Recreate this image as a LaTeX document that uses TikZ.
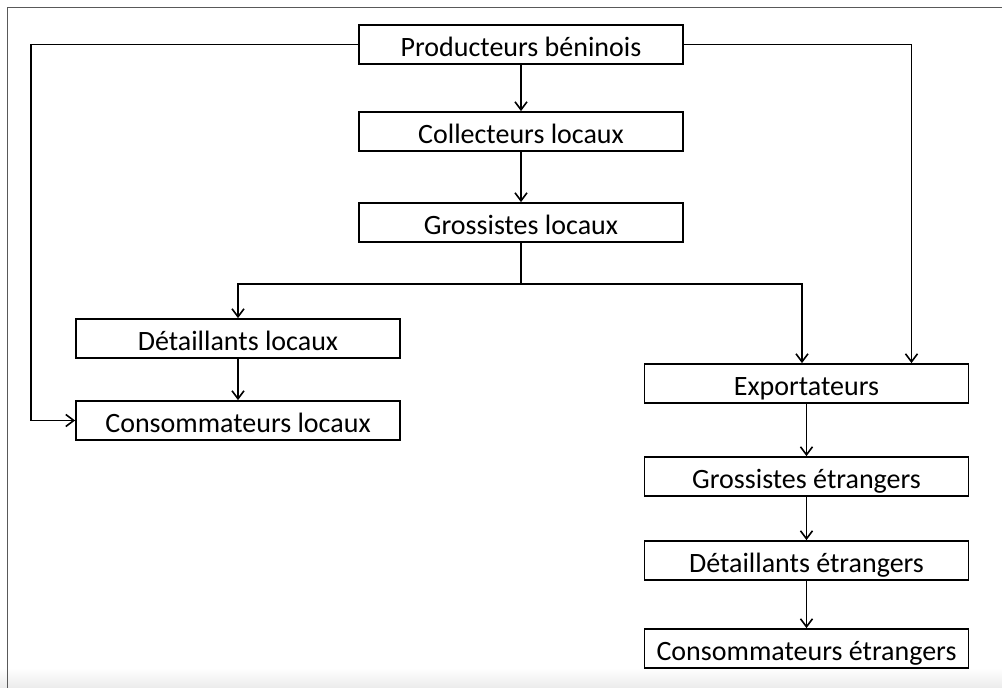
\documentclass[tikz,border=0pt]{standalone}
\usepackage{fontspec}
\setmainfont{Carlito}
\usetikzlibrary{arrows.meta}
\begin{document}
\begin{tikzpicture}[x=1pt,y=-1pt,
  box/.style={draw=black,line width=1.8pt,minimum width=324pt,minimum height=39pt,inner sep=0pt,text height=23pt,text depth=0pt,font=\fontsize{28}{32}\selectfont},
  link/.style={line width=1.8pt,draw=black},
  arr/.style={link,-{Straight Barb[length=8pt,width=12pt,line width=1.6pt]}}]
\useasboundingbox (0,0) rectangle (1002,688);
\fill[white] (0,0) rectangle (1002,688);
\shade[top color=white,bottom color=black!8] (0,668) rectangle (1002,688);
\draw[black!65,line width=1pt] (7,688) -- (7,7) -- (1002,7);
\node[box] (prod) at (521,44.5) {Producteurs béninois};
\node[box] (coll) at (521,131.5) {Collecteurs locaux};
\node[box] (gros) at (521,222.5) {Grossistes locaux};
\node[box] (det) at (238,338.5) {Détaillants locaux};
\node[box] (cons) at (238,420.5) {Consommateurs locaux};
\node[box] (exp) at (806.5,383.5) {Exportateurs};
\node[box] (grose) at (806.5,476.5) {Grossistes étrangers};
\node[box] (dete) at (806.5,560.5) {Détaillants étrangers};
\node[box] (conse) at (806.5,648.5) {Consommateurs étrangers};
\coordinate (split) at (521,284);
\draw[arr] (prod) -- (coll);
\draw[arr] (coll) -- (gros);
\draw[link] (gros) -- (split);
\draw[arr] (split) -| (det.north);
\draw[arr] (split) -| ([xshift=-4.5pt]exp.north);
\draw[arr] (det) -- (cons);
\draw[arr] (prod.west) -| (31,420.5) -- (cons.west);
\draw[arr] (prod.east) -| ([xshift=105pt]exp.north);
\draw[arr] (exp) -- (grose);
\draw[arr] (grose) -- (dete);
\draw[arr] (dete) -- (conse);
\end{tikzpicture}
\end{document}
